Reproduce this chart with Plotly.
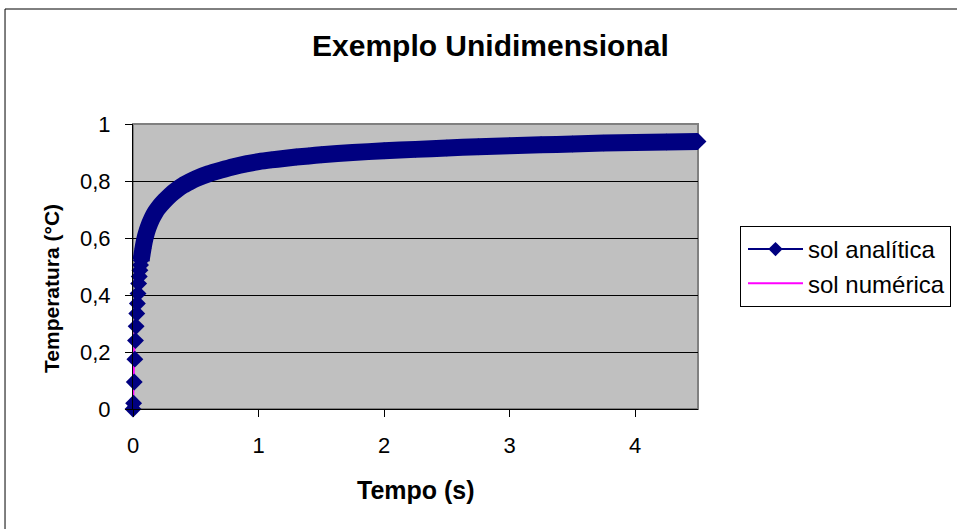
import plotly.graph_objects as go

# Analytical solution: time (s) and temperature (°C)
t_anal = [0, 0.005, 0.01, 0.015, 0.02, 0.025, 0.03, 0.035, 0.04, 0.045,
          0.05, 0.055, 0.06, 0.065, 0.07, 0.08, 0.09, 0.1, 0.12, 0.15, 0.18,
          0.2, 0.25, 0.3, 0.35, 0.4, 0.45, 0.5, 0.6, 0.7, 0.8,
          0.9, 1.0, 1.1, 1.2, 1.3, 1.4, 1.5, 1.75, 2.0, 2.25,
          2.5, 2.75, 3.0, 3.25, 3.5, 3.75, 4.0, 4.25, 4.5]
T_anal = [0, 0.02, 0.095, 0.175, 0.24, 0.29, 0.335, 0.37, 0.405, 0.44,
          0.465, 0.487, 0.505, 0.522, 0.537, 0.564, 0.588, 0.607, 0.636, 0.668, 0.692,
          0.705, 0.73, 0.752, 0.77, 0.785, 0.797, 0.808, 0.825, 0.838, 0.85,
          0.86, 0.868, 0.874, 0.879, 0.884, 0.888, 0.892, 0.9, 0.906, 0.911,
          0.916, 0.92, 0.924, 0.927, 0.93, 0.933, 0.935, 0.937, 0.939]

# Numerical solution
t_num = [0, 0.01, 0.02, 0.05, 0.1, 0.2, 0.5, 1.0, 2.0, 3.0, 4.0, 4.5]
T_num = [0, 0.28, 0.40, 0.46, 0.60, 0.70, 0.80, 0.865, 0.905, 0.924, 0.935, 0.939]

x_ticks = [0, 1, 2, 3, 4]
y_ticks = [0, 0.2, 0.4, 0.6, 0.8, 1]
y_tick_text = ["0", "0,2", "0,4", "0,6", "0,8", "1"]

NAVY = "#000080"
MAGENTA = "#FF00FF"
FONT = "Liberation Sans, Arial, sans-serif"

# index where the dense marker run merges into a solid band
band_start = 13

fig = go.Figure()

# numerical series sits underneath the analytical markers
fig.add_trace(go.Scatter(
    x=t_num, y=T_num, mode="lines", name="sol numérica",
    line=dict(color=MAGENTA, width=2), legendrank=2))

# solid band formed by the densely packed diamonds
fig.add_trace(go.Scatter(
    x=t_anal[band_start:], y=T_anal[band_start:], mode="lines",
    line=dict(color=NAVY, width=17, shape="spline", smoothing=0.6),
    showlegend=False, hoverinfo="skip"))

fig.add_trace(go.Scatter(
    x=t_anal, y=T_anal, mode="markers", showlegend=False,
    marker=dict(symbol="diamond", size=13, color=NAVY, line=dict(width=0)),
    cliponaxis=False))

# legend entry for the analytical series (line with diamond marker)
fig.add_trace(go.Scatter(
    x=[None], y=[None], mode="lines+markers", name="sol analítica",
    line=dict(color=NAVY, width=2),
    marker=dict(symbol="diamond", size=11, color=NAVY), legendrank=1))

fig.update_layout(
    width=957, height=529,
    margin=dict(l=133, r=259, t=124, b=120, autoexpand=False),
    paper_bgcolor="white", plot_bgcolor="#C0C0C0",
    font=dict(family=FONT, size=22, color="black"),
    showlegend=True,
    legend=dict(xref="container", yref="container",
                x=740 / 957, y=1 - 226 / 529, xanchor="left", yanchor="top",
                bgcolor="white", bordercolor="black", borderwidth=1,
                font=dict(family=FONT, size=24), itemwidth=55,
                indentation=2, tracegroupgap=0),
    xaxis=dict(range=[0, 4.5], tickvals=x_ticks, ticks="outside",
               ticklen=7, tickcolor="black", showgrid=False,
               showline=True, linecolor="black", linewidth=1,
               zeroline=False, ticklabelstandoff=10, automargin=False,
               tickfont=dict(size=22)),
    yaxis=dict(range=[0, 1], tickvals=y_ticks, ticktext=y_tick_text,
               ticks="outside", ticklen=7, tickcolor="black",
               showgrid=True, gridcolor="black", gridwidth=1,
               showline=True, linecolor="black", linewidth=1,
               zeroline=False, ticklabelstandoff=10, automargin=False,
               tickfont=dict(size=22)),
    shapes=[
        # plot-area frame
        dict(type="rect", xref="paper", yref="paper", x0=0, x1=1, y0=0, y1=1,
             line=dict(color="#808080", width=2), layer="below"),
        # chart-area frame
        dict(type="rect", xref="paper", yref="paper",
             x0=-0.2265, x1=1.47, y0=-0.45, y1=1.4035,
             line=dict(color="black", width=1)),
    ],
    annotations=[
        dict(text="<b>Exemplo Unidimensional</b>", xref="paper", yref="paper",
             x=0.632, y=1.277, xanchor="center", yanchor="middle",
             showarrow=False, font=dict(family=FONT, size=30)),
        dict(text="<b>Tempo (s)</b>", xref="paper", yref="paper",
             x=0.5, y=-0.284, xanchor="center", yanchor="middle",
             showarrow=False, font=dict(family=FONT, size=25)),
        dict(text="<b>Temperatura (°C)</b>", xref="paper", yref="paper",
             x=-0.1434, y=0.4246, xanchor="center", yanchor="middle",
             textangle=-90, showarrow=False, font=dict(family=FONT, size=21)),
    ],
)

fig.write_html("out.html")
